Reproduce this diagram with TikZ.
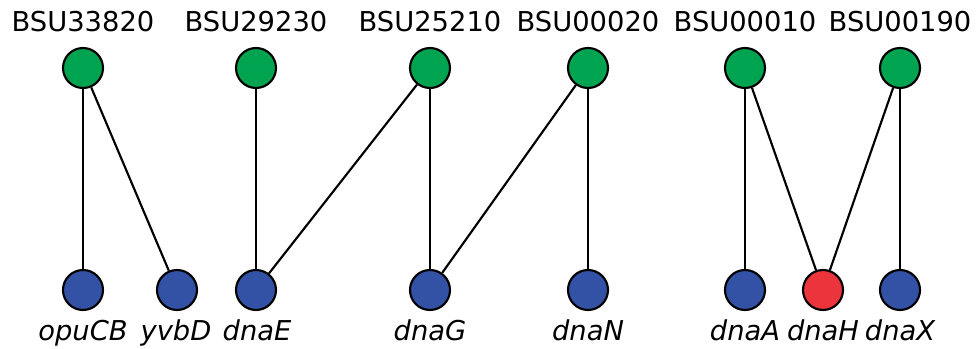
\documentclass[tikz,border=0pt]{standalone}
\usepackage{fontspec}
\setmainfont{DejaVu Sans}
\usepackage{tikz}
\definecolor{locusgreen}{RGB}{0,163,80}
\definecolor{geneblue}{RGB}{52,82,165}
\definecolor{genered}{RGB}{236,52,60}
\tikzset{
  vert/.style={circle,draw=black,line width=1.6pt,minimum size=30pt,inner sep=0pt},
  locus/.style={vert,fill=locusgreen},
  gene/.style={vert,fill=geneblue},
  hit/.style={vert,fill=genered},
  toplab/.style={font=\fontsize{20.5}{24}\selectfont,inner sep=0pt,anchor=base},
  botlab/.style={font=\fontsize{20.5}{24}\selectfont\itshape,inner sep=0pt,anchor=base},
  link/.style={line width=1.6pt}
}

\begin{document}
\begin{tikzpicture}[x=0.75pt,y=0.75pt,yscale=-1,xscale=1]
        \useasboundingbox (0,0) rectangle (976,349);

        % loci (top row)
        \node [locus] (b33820) at (83,68) {};
        \node [locus] (b29230) at (256,68) {};
        \node [locus] (b25210) at (430,68) {};
        \node [locus] (b00020) at (588,68) {};
        \node [locus] (b00010) at (745,68) {};
        \node [locus] (b00190) at (900,68) {};

        % genes (bottom row)
        \node [gene] (opuCB) at (83,290) {};
        \node [gene] (yvbD) at (177,290) {};
        \node [gene] (dnaE) at (256,290) {};
        \node [gene] (dnaG) at (430,290) {};
        \node [gene] (dnaN) at (588,290) {};
        \node [gene] (dnaA) at (745,290) {};
        \node [hit] (dnaH) at (823,290) {};
        \node [gene] (dnaX) at (900,290) {};

        \draw [link] (b33820) -- (opuCB);
        \draw [link] (b33820) -- (yvbD);
        \draw [link] (b29230) -- (dnaE);
        \draw [link] (b25210) -- (dnaE);
        \draw [link] (b25210) -- (dnaG);
        \draw [link] (b00020) -- (dnaG);
        \draw [link] (b00020) -- (dnaN);
        \draw [link] (b00010) -- (dnaA);
        \draw [link] (b00010) -- (dnaH);
        \draw [link] (b00190) -- (dnaH);
        \draw [link] (b00190) -- (dnaX);

        % labels
        \node [toplab] (l33820) at (83,32) {BSU33820};
        \node [toplab] (l29230) at (256,32) {BSU29230};
        \node [toplab] (l25210) at (430,32) {BSU25210};
        \node [toplab] (l00020) at (588,32) {BSU00020};
        \node [toplab] (l00010) at (745,32) {BSU00010};
        \node [toplab] (l00190) at (900,32) {BSU00190};
        \node [botlab] (lopuCB) at (83,341) {opuCB};
        \node [botlab] (lyvbD) at (176,341) {yvbD};
        \node [botlab] (ldnaE) at (257,341) {dnaE};
        \node [botlab] (ldnaG) at (430,341) {dnaG};
        \node [botlab] (ldnaN) at (588,341) {dnaN};
        \node [botlab] (ldnaA) at (745,341) {dnaA};
        \node [botlab] (ldnaH) at (823,341) {dnaH};
        \node [botlab] (ldnaX) at (900,341) {dnaX};
    \end{tikzpicture}
\end{document}
